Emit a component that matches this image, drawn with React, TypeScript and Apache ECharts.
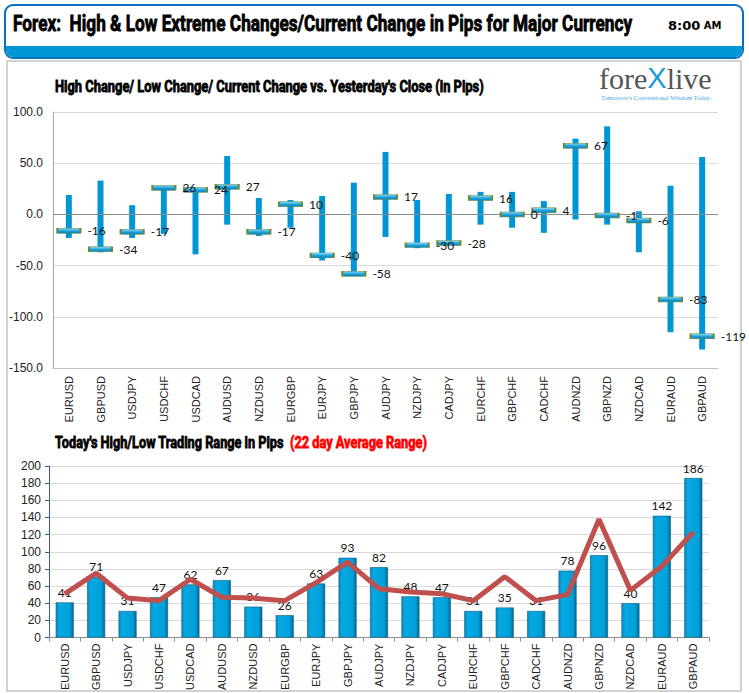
import React, { useEffect, useRef } from "react";
import * as echarts from "echarts";

const categories = [
  "EURUSD", "GBPUSD", "USDJPY", "USDCHF", "USDCAD", "AUDUSD", "NZDUSD", "EURGBP", "EURJPY", "GBPJPY",
  "AUDJPY", "NZDJPY", "CADJPY", "EURCHF", "GBPCHF", "CADCHF", "AUDNZD", "GBPNZD", "NZDCAD", "EURAUD", "GBPAUD",
];
const highChange = [19, 33, 9, 27, 26, 57, 16, 14, 18, 31, 61, 14, 20, 22, 22, 13, 74, 86, 3, 28, 56];
const lowChange = [-23, -37, -23, -19, -39, -10, -21, -13, -45, -60, -22, -33, -29, -10, -13, -18, -5, -10, -37, -115, -132];
const currentChange = [-16, -34, -17, 26, 24, 27, -17, 10, -40, -58, 17, -30, -28, 16, 0, 4, 67, -1, -6, -83, -119];
const todayRange = [41, 71, 31, 47, 62, 67, 36, 26, 63, 93, 82, 48, 47, 31, 35, 31, 78, 96, 40, 142, 186];
const avgRange22 = [51, 75, 46, 43, 68, 47, 46, 43, 64, 88, 57, 53, 51, 43, 71, 43, 50, 138, 55, 83, 123];

const topTicks = { min: -150, max: 100, interval: 50 };
const bottomTicks = { min: 0, max: 200, interval: 20 };

const HEADER_TITLE = "Forex:  High & Low Extreme Changes/Current Change in Pips for Major Currency";
const TOP_TITLE = "High Change/ Low Change/ Current Change vs. Yesterday's Close (in Pips)";
const BOTTOM_TITLE_A = "Today's High/Low Trading Range in Pips ";
const BOTTOM_TITLE_B = "(22 day Average Range)";

const COND_FONT = "Roboto, 'Liberation Sans', sans-serif";

function measure(text: string, font: string): number {
  const c = document.createElement("canvas");
  const ctx = c.getContext("2d");
  if (!ctx) return 100;
  ctx.font = font;
  return ctx.measureText(text).width;
}

function fitText(text: string, x: number, y: number, width: number, size: number, fill: string) {
  const w = measure(text, `bold ${size}px ${COND_FONT}`);
  return {
    type: "text",
    x,
    y,
    scaleX: width / w,
    z: 10,
    style: {
      text,
      fill,
      fontSize: size,
      fontWeight: "bold",
      fontFamily: COND_FONT,
      align: "left",
      verticalAlign: "middle",
      stroke: fill,
      lineWidth: 0.8,
    },
  };
}

export default function App() {
  const ref = useRef<HTMLDivElement>(null);
  useEffect(() => {
    if (!ref.current) return;
    const chart = echarts.init(ref.current, undefined, { renderer: "svg" });

    const markerFill = new echarts.graphic.LinearGradient(0, 0, 0, 1, [
      { offset: 0, color: "#9adcf6" },
      { offset: 0.5, color: "#1ea6e0" },
      { offset: 1, color: "#0a7db6" },
    ]);
    const barFill = new echarts.graphic.LinearGradient(0, 0, 1, 0, [
      { offset: 0, color: "#0a8cc4" },
      { offset: 0.2, color: "#06a9e2" },
      { offset: 0.8, color: "#009fd8" },
      { offset: 1, color: "#0a6690" },
    ]);

    const option: any = {
      animation: false,
      backgroundColor: "#ffffff",
      graphic: [
        {
          type: "rect",
          shape: { x: 5, y: 5, width: 738, height: 53, r: 8 },
          style: { fill: "#ffffff", stroke: "#0b6fc2", lineWidth: 2 },
          z: 1,
        },
        {
          type: "rect",
          shape: { x: 6, y: 46, width: 736, height: 11, r: [0, 0, 7, 7] },
          style: { fill: "#0098d4" },
          z: 2,
        },
        fitText(HEADER_TITLE, 13, 24, 619, 22, "#000000"),
        {
          type: "text",
          x: 668,
          y: 25,
          z: 10,
          style: {
            text: "{a|8:00} {b|AM}",
            align: "left",
            verticalAlign: "middle",
            rich: {
              a: { fontSize: 13, fontWeight: "bold", fontFamily: "'DejaVu Sans', sans-serif", fill: "#000" },
              b: { fontSize: 10, fontWeight: "bold", fontFamily: "'DejaVu Sans', sans-serif", fill: "#000" },
            },
          },
        },
        {
          type: "rect",
          shape: { x: 7, y: 61, width: 734, height: 630 },
          style: { fill: "none", stroke: "#c4c4c4", lineWidth: 1.5 },
          z: 0,
        },
        fitText(TOP_TITLE, 55, 87, 429, 16, "#000000"),
        fitText(BOTTOM_TITLE_A, 55, 443, 232, 16, "#000000"),
        fitText(BOTTOM_TITLE_B, 290, 443, 137, 16, "#ff0000"),
        {
          type: "text",
          x: 599,
          y: 78,
          z: 10,
          style: {
            text: "{a|fore}{b|X}{a|live}",
            align: "left",
            verticalAlign: "middle",
            rich: {
              a: { fontSize: 30, fontFamily: "'Liberation Serif', serif", fill: "#555555" },
              b: { fontSize: 29, fontFamily: "'Liberation Sans', sans-serif", fill: "#1a9ad6" },
            },
          },
        },
        {
          type: "text",
          x: 601,
          y: 97,
          z: 10,
          style: {
            text: "Tomorrow's Conventional Wisdom Today.",
            fontSize: 6.5,
            fontFamily: "'Liberation Serif', serif",
            fill: "#3aa6dc",
            align: "left",
            verticalAlign: "middle",
          },
        },
      ],
      grid: [
        { left: 53, right: 31, top: 112, height: 256 },
        { left: 49, right: 40, top: 466, height: 175 },
      ],
      xAxis: [
        {
          gridIndex: 0,
          type: "category",
          data: categories,
          axisLine: { onZero: false, lineStyle: { color: "#bfbfbf" } },
          axisTick: { show: false },
          axisLabel: {
            rotate: 90,
            interval: 0,
            fontSize: 11,
            color: "#222",
            fontFamily: "'Liberation Sans', Arial, sans-serif",
            margin: 8,
          },
        },
        {
          gridIndex: 1,
          type: "category",
          data: categories,
          axisLine: { lineStyle: { color: "#8c8c8c" } },
          axisTick: { show: true, length: 4, lineStyle: { color: "#8c8c8c" } },
          axisLabel: {
            rotate: 90,
            interval: 0,
            fontSize: 11,
            color: "#222",
            fontFamily: "'Liberation Sans', Arial, sans-serif",
            margin: 6,
          },
        },
      ],
      yAxis: [
        {
          gridIndex: 0,
          type: "value",
          min: topTicks.min,
          max: topTicks.max,
          interval: topTicks.interval,
          axisLine: { show: true, lineStyle: { color: "#a6a6a6" } },
          axisTick: { show: false },
          splitLine: { lineStyle: { color: "#d9d9d9" } },
          axisLabel: {
            formatter: (v: number) => v.toFixed(1),
            fontSize: 12,
            color: "#222",
            fontFamily: "'Liberation Sans', Arial, sans-serif",
            margin: 10,
          },
        },
        {
          gridIndex: 1,
          type: "value",
          min: bottomTicks.min,
          max: bottomTicks.max,
          interval: bottomTicks.interval,
          axisLine: { show: true, lineStyle: { color: "#3b5c8f" } },
          axisTick: { show: true, length: 4, lineStyle: { color: "#3b5c8f" } },
          splitLine: { lineStyle: { color: "#d9d9d9" } },
          axisLabel: {
            fontSize: 12,
            color: "#222",
            fontFamily: "'Liberation Sans', Arial, sans-serif",
            margin: 8,
          },
        },
      ],
      series: [
        {
          type: "custom",
          xAxisIndex: 0,
          yAxisIndex: 0,
          data: categories.map((_, i) => [i, lowChange[i], highChange[i]]),
          encode: { x: 0, y: [1, 2] },
          renderItem: (params: any, api: any) => {
            const i = api.value(0);
            const lo = api.coord([i, api.value(1)]);
            const hi = api.coord([i, api.value(2)]);
            return {
              type: "rect",
              shape: { x: hi[0] - 3, y: hi[1], width: 6, height: lo[1] - hi[1] },
              style: { fill: "#0096d6" },
            };
          },
          z: 2,
        },
        {
          type: "scatter",
          xAxisIndex: 0,
          yAxisIndex: 0,
          data: currentChange,
          symbol: "rect",
          symbolSize: [23, 5],
          itemStyle: { color: markerFill, borderColor: "#6a8a3a", borderWidth: 1, opacity: 1 },
          label: {
            show: true,
            position: "right",
            distance: 6,
            fontSize: 12,
            color: "#111",
            fontFamily: "Lato, 'Open Sans', sans-serif",
            formatter: (p: any) => String(p.value),
          },
          markLine: {
            silent: true,
            symbol: "none",
            label: { show: false },
            lineStyle: { color: "#8c8c8c", width: 1, type: "solid" },
            data: [{ yAxis: 0 }],
          },
          z: 5,
        },
        {
          type: "bar",
          xAxisIndex: 1,
          yAxisIndex: 1,
          data: todayRange,
          barWidth: 18,
          itemStyle: { color: barFill, borderColor: "#0a5a80", borderWidth: 0.6 },
          label: {
            show: true,
            position: "top",
            distance: 4,
            fontSize: 12,
            color: "#111",
            fontFamily: "Lato, 'Open Sans', sans-serif",
          },
          z: 2,
        },
        {
          type: "line",
          xAxisIndex: 1,
          yAxisIndex: 1,
          data: avgRange22,
          symbol: "none",
          lineStyle: { color: "#c0504d", width: 5 },
          itemStyle: { color: "#c0504d" },
          z: 4,
        },
      ],
    };
    chart.setOption(option);
    return () => chart.dispose();
  }, []);

  return (
    <div
      ref={ref}
      style={{ position: "absolute", left: 0, top: 0, width: 749, height: 693, background: "#fff" }}
    />
  );
}
